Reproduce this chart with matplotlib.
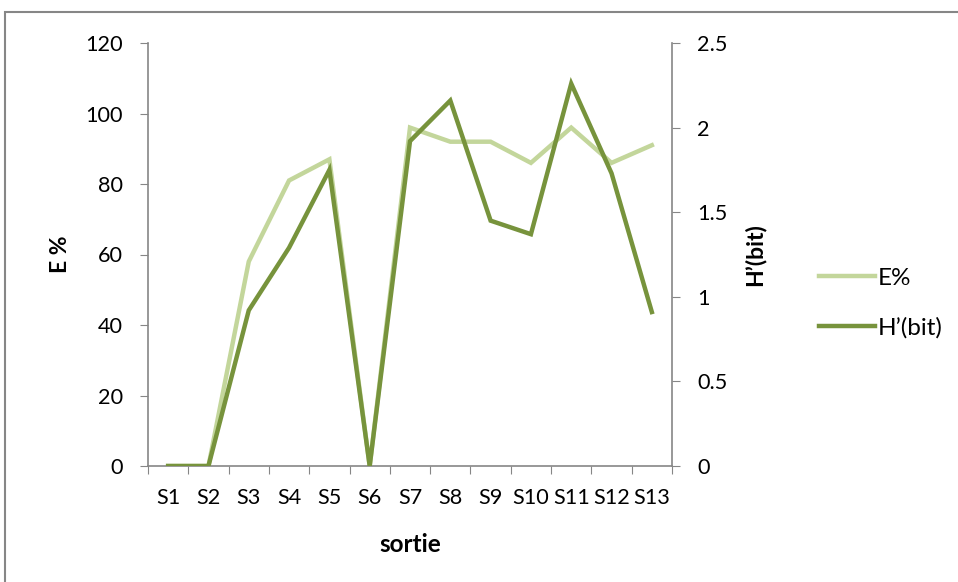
import matplotlib
matplotlib.use("Agg")
import matplotlib.pyplot as plt
from matplotlib.ticker import FixedLocator, FuncFormatter, NullFormatter
from matplotlib.patches import Rectangle

categories = ["S1", "S2", "S3", "S4", "S5", "S6", "S7", "S8", "S9", "S10", "S11", "S12", "S13"]
e_pct = [0, 0, 58, 81, 87, 0, 96, 92, 92, 86, 96, 86, 91]
h_bit = [0, 0, 0.92, 1.29, 1.75, 0, 1.92, 2.16, 1.45, 1.37, 2.26, 1.73, 0.91]
left_ticks = [0, 20, 40, 60, 80, 100, 120]
right_ticks = [0, 0.5, 1, 1.5, 2, 2.5]

plt.rcParams['font.family'] = ['Lato', 'DejaVu Sans']

W, H = 958, 582
fig = plt.figure(figsize=(W / 100, H / 100), dpi=100)
ax = fig.add_axes([148 / W, 1 - 466 / H, (672 - 148) / W, (466 - 43) / H])
ax2 = ax.twinx()

light = "#C3D69B"
dark = "#77933C"
grey = "#868686"
tfs = 15.6
lfs = 16.5

x = list(range(len(categories)))
l1, = ax.plot(x, e_pct, color=light, lw=3.2, solid_joinstyle='miter', label="E%")
l2, = ax2.plot(x, h_bit, color=dark, lw=3.2, solid_joinstyle='miter', label="H\u2019(bit)")

ax.set_xlim(-0.5, len(categories) - 0.5)
ax.set_ylim(0, 120)
ax2.set_ylim(0, 2.5)
ax.set_yticks(left_ticks)
ax2.set_yticks(right_ticks)
ax2.yaxis.set_major_formatter(FuncFormatter(lambda v, p: f"{v:g}"))

ax.xaxis.set_major_locator(FixedLocator([i - 0.5 for i in range(len(categories) + 1)]))
ax.xaxis.set_major_formatter(NullFormatter())
ax.xaxis.set_minor_locator(FixedLocator(x))
ax.set_xticks(x, minor=True)
ax.set_xticklabels(categories, minor=True)
ax.tick_params(axis='x', which='minor', length=0, pad=16, labelsize=tfs)
ax.tick_params(axis='x', which='major', length=6, color=grey, direction='out')
ax.tick_params(axis='y', length=6, color=grey, direction='out', labelsize=tfs, pad=12)
ax2.tick_params(axis='y', length=6, color=grey, direction='out', labelsize=tfs, pad=12)

for a in (ax, ax2):
    for s in a.spines.values():
        s.set_visible(False)
ax.spines['left'].set_visible(True)
ax.spines['bottom'].set_visible(True)
ax2.spines['right'].set_visible(True)
for s in (ax.spines['left'], ax.spines['bottom'], ax2.spines['right']):
    s.set_color(grey)
    s.set_linewidth(1.2)

ax.set_ylabel("E %", fontsize=lfs, fontweight='bold', labelpad=10)
ax2.set_ylabel("H\u2019(bit)", fontsize=lfs, fontweight='bold', labelpad=12)
ax.set_xlabel("sortie", fontsize=lfs + 1, fontweight='bold', labelpad=18)

fig.legend([l1, l2], ["E%", "H\u2019(bit)"], loc='upper left',
           bbox_to_anchor=(797 / W, 1 - 246 / H), frameon=False,
           fontsize=17.5, handlelength=2.3, labelspacing=1.15, handletextpad=0.12)

fig.patches.append(Rectangle((5 / W, -0.05), 1.1, 1 - 12 / H + 0.05,
                             transform=fig.transFigure, fill=False,
                             edgecolor=grey, linewidth=1.5))

fig.savefig("out.png", dpi=100)
